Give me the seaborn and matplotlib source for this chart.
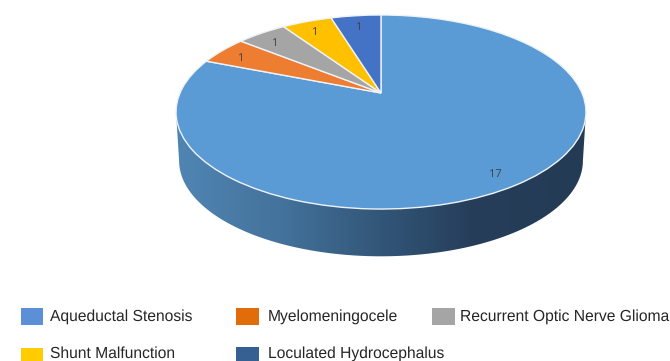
import numpy as np
import matplotlib
matplotlib.use("Agg")
import matplotlib.pyplot as plt
import seaborn as sns
from matplotlib.colors import LinearSegmentedColormap
from matplotlib.patches import Polygon, Rectangle
from matplotlib.transforms import Transform

categories = ["Aqueductal Stenosis", "Myelomeningocele", "Recurrent Optic Nerve Glioma",
              "Shunt Malfunction", "Loculated Hydrocephalus"]
# slices run clockwise from twelve o'clock
slice_values = [17, 1, 1, 1, 1]
slice_colors = ["#5B9BD5", "#ED7D31", "#A5A5A5", "#FFC000", "#4472C4"]
legend_colors = ["#5B90D6", "#E36C0A", "#A5A5A5", "#FFCC00", "#366092"]
wall_stops = ["#5085B3", "#44739C", "#325678", "#263E5A", "#243B55"]

APEX_X, APEX_Y = 381, 93
SCALE_X, SCALE_Y, TILT = 201.0, 93.3, 0.196
WALL_DEPTH = 49


class TiltedDisc(Transform):
    """Perspective view of the unit disc, returned in figure pixels."""
    input_dims = output_dims = 2

    def __init__(self, scale=1.0, drop=0.0):
        super().__init__()
        self.scale, self.drop = scale, drop

    def transform_non_affine(self, xy):
        xy = np.asarray(xy, dtype=float)
        d = 1 + TILT * xy[:, 1]
        px = APEX_X + self.scale * SCALE_X * xy[:, 0] / d
        py = APEX_Y + self.drop - self.scale * SCALE_Y * xy[:, 1] / d
        return np.column_stack([px, py])


sns.set_theme(style="white")
plt.rcParams["font.family"] = ["Liberation Sans", "DejaVu Sans"]
plt.rcParams["text.hinting"] = "no_hinting"

fig = plt.figure(figsize=(6.7, 3.61), dpi=100)
ax = fig.add_axes([0, 0, 1, 1])

disc = TiltedDisc()
wedges, labels = ax.pie(
    slice_values,
    colors=sns.color_palette(slice_colors),
    startangle=90,
    counterclock=False,
    labels=[str(v) for v in slice_values],
    labeldistance=0.87,
    wedgeprops=dict(edgecolor="#EEF3F8", linewidth=1.0, zorder=3),
    textprops=dict(fontsize=8, color="#404040", family="Open Sans", zorder=4),
)
for w in wedges:
    w.set_transform(disc + ax.transData)
label_place = TiltedDisc(drop=3)
for t in labels:
    t.set_transform(label_place + ax.transData)
    t.set_ha("center")
    t.set_va("center")

ax.set_aspect("auto")
ax.axis("off")

# side wall of the disc: lower half of the rim, shaded from left to right
edge = np.arcsin(TILT)
theta = np.linspace(np.pi + edge, 2 * np.pi - edge, 200)
rim = np.column_stack([np.cos(theta), np.sin(theta)])
lower = TiltedDisc(scale=0.985, drop=WALL_DEPTH).transform_non_affine(rim)
upper = TiltedDisc().transform_non_affine(rim[[-1, 0]])
outline = Polygon(np.vstack([lower, upper]), closed=True, transform=ax.transData,
                  facecolor="none", edgecolor="none")
ax.add_patch(outline)
wall_cmap = LinearSegmentedColormap.from_list(
    "wall", list(zip([0, 0.25, 0.5, 0.72, 1], wall_stops)))
shade = ax.imshow(np.linspace(0, 1, 256)[None, :], cmap=wall_cmap, aspect="auto",
                  extent=(176, 586, 265, 100), zorder=2)
shade.set_clip_path(outline)
ax.set_xlim(0, 670)
ax.set_ylim(361, 0)

# legend laid out in two rows
swatches = [(20.5, 308, 50, 316.5), (236, 308, 268, 316.5), (432, 308, 460, 316.5),
            (20.5, 348, 50, 353.5), (236, 347, 268, 353.5)]
for (sx, sy, tx, ty), color, name in zip(swatches, legend_colors, categories):
    ax.add_patch(Rectangle((sx, sy), 22.5, 16.5, facecolor=color, edgecolor="none", zorder=3))
    ax.text(tx, ty, name, fontsize=11.25, color="#262626", ha="left", va="center", zorder=4)

fig.savefig("out.png", dpi=100, facecolor="white")
